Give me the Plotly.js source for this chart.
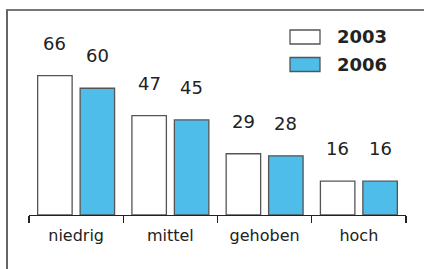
<!DOCTYPE html>
<html><head><meta charset="utf-8">
<script src="https://cdn.plot.ly/plotly-3.0.1.min.js"></script>
<style>
html,body{margin:0;padding:0;background:#fff;}
#frame{position:absolute;left:6px;top:9px;width:418px;height:260px;border-left:2px solid #666;border-top:2px solid #777;box-sizing:border-box;}
#chart{position:absolute;left:0;top:0;width:424px;height:269px;}
</style></head>
<body>
<div id="frame"></div>
<div id="chart"></div>
<script>
const categories = ["niedrig", "mittel", "gehoben", "hoch"];
const seriesNames = ["2003", "2006"];
const values2003 = [66, 47, 29, 16];
const values2006 = [60, 45, 28, 16];

const W = 424, H = 269;
const L = 29, R = 18, T = 46, B = 54;
const pw = W - L - R, ph = H - T - B;
const px = x => (x - L) / pw;
const py = y => (H - B - y) / ph;

const fillColors = ["#ffffff", "#4fbde9"];
const lineColor = "#555";
const font = "DejaVu Sans";

const series = [values2003, values2006];
const traces = series.map((vals, k) => ({
  type: "bar",
  name: seriesNames[k],
  x: categories,
  y: vals,
  marker: {color: fillColors[k], line: {color: lineColor, width: 1.3}},
  hoverinfo: "skip"
}));

const offsets = [-0.225, 0.225];
const annotations = [];
series.forEach((vals, k) => {
  vals.forEach((v, i) => {
    annotations.push({
      x: i + offsets[k], y: v, xref: "x", yref: "y",
      text: String(v), showarrow: false,
      yanchor: "bottom", yshift: 20,
      font: {family: font, size: 18, color: "#222"}
    });
  });
});

const shapes = [];
const legendTop = [30, 57.5];
seriesNames.forEach((n, k) => {
  shapes.push({
    type: "rect", xref: "paper", yref: "paper",
    x0: px(290), x1: px(320), y0: py(legendTop[k]), y1: py(legendTop[k] + 14),
    fillcolor: fillColors[k], line: {color: lineColor, width: 1.3}
  });
  annotations.push({
    xref: "paper", yref: "paper", x: px(335), y: py(legendTop[k] + 7),
    xanchor: "left", yanchor: "middle", showarrow: false,
    text: "<b>" + n + "</b>",
    font: {family: font, size: 18, color: "#222"}
  });
});

const layout = {
  width: W, height: H,
  margin: {l: L, r: R, t: T, b: B, pad: 0},
  paper_bgcolor: "rgba(0,0,0,0)", plot_bgcolor: "rgba(0,0,0,0)",
  showlegend: false,
  barmode: "group", bargap: 0.099, bargroupgap: 0.188,
  xaxis: {
    type: "category", showline: true, linecolor: "#222", linewidth: 1.3,
    ticks: "outside", tickson: "boundaries", ticklen: 7, tickcolor: "#222", tickwidth: 1.3,
    showgrid: false, zeroline: false, fixedrange: true,
    tickfont: {family: font, size: 16, color: "#222"},
    ticklabelstandoff: 5
  },
  yaxis: {range: [0, 80], visible: false, fixedrange: true},
  annotations: annotations,
  shapes: shapes
};

Plotly.newPlot("chart", traces, layout, {staticPlot: true});
</script>
</body></html>
